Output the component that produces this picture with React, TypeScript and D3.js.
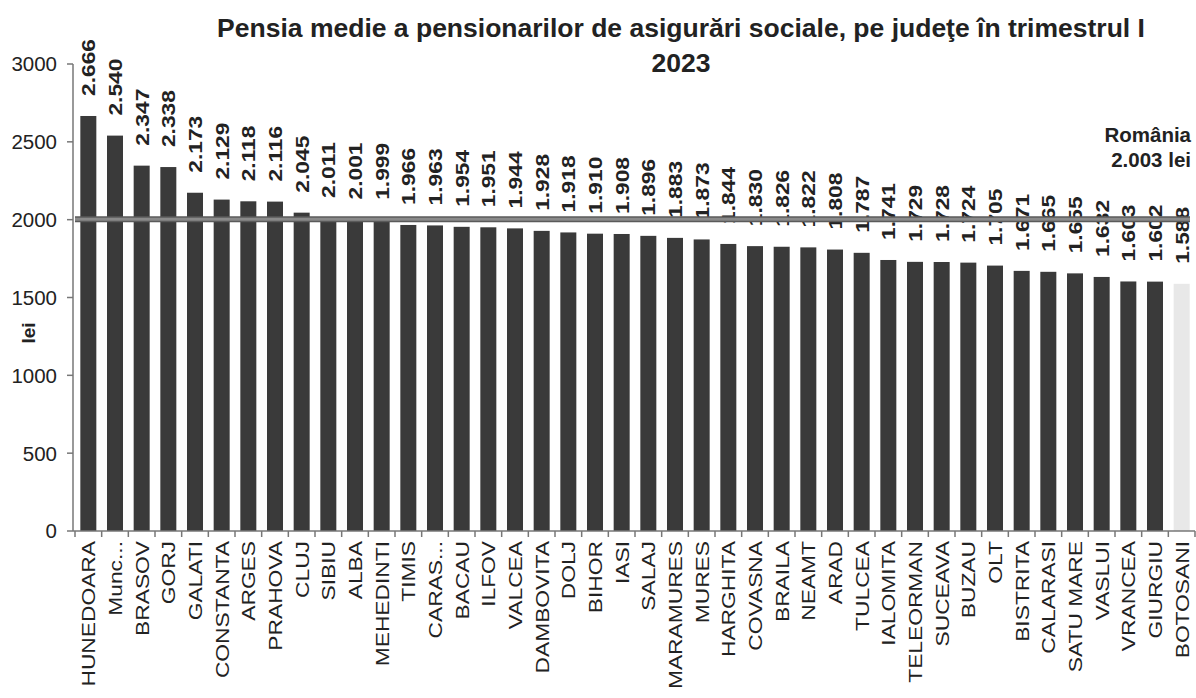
import React from "react";
import * as d3 from "d3";

const counties = [
  "HUNEDOARA", "Munc...", "BRASOV", "GORJ", "GALATI", "CONSTANTA", "ARGES", "PRAHOVA", "CLUJ", "SIBIU",
  "ALBA", "MEHEDINTI", "TIMIS", "CARAS...", "BACAU", "ILFOV", "VALCEA", "DAMBOVITA", "DOLJ", "BIHOR",
  "IASI", "SALAJ", "MARAMURES", "MURES", "HARGHITA", "COVASNA", "BRAILA", "NEAMT", "ARAD", "TULCEA",
  "IALOMITA", "TELEORMAN", "SUCEAVA", "BUZAU", "OLT", "BISTRITA", "CALARASI", "SATU MARE", "VASLUI", "VRANCEA",
  "GIURGIU", "BOTOSANI",
];
const pensions = [
  2666, 2540, 2347, 2338, 2173, 2129, 2118, 2116, 2045, 2011,
  2001, 1999, 1966, 1963, 1954, 1951, 1944, 1928, 1918, 1910,
  1908, 1896, 1883, 1873, 1844, 1830, 1826, 1822, 1808, 1787,
  1741, 1729, 1728, 1724, 1705, 1671, 1665, 1655, 1632, 1603,
  1602, 1588,
];
const nationalAverage = 2003;
const yTicks = [0, 500, 1000, 1500, 2000, 2500, 3000];
const titleLines = [
  "Pensia medie a pensionarilor de asigurări sociale, pe judeţe în trimestrul I",
  "2023",
];
const avgLabels = ["România", "2.003 lei"];
const yAxisTitle = "lei";

const W = 1196;
const H = 698;

export default function App() {
  const x = d3.scaleBand<string>().domain(counties).range([75, 1195]).paddingInner(0.4).paddingOuter(0.2);
  const y = d3.scaleLinear().domain([0, 3000]).range([531, 64]);
  const fmt = d3.formatLocale({ decimal: ",", thousands: ".", grouping: [3], currency: ["", ""] }).format(",d");
  const bw = x.bandwidth();
  const step = x.step();
  const font = "Arial, 'Liberation Sans', sans-serif";
  const boundaries = counties.map((c) => (x(c) as number) - (step - bw) / 2);
  boundaries.push((x(counties[counties.length - 1]) as number) + bw + (step - bw) / 2);

  return (
    <svg width={W} height={H} style={{ position: "absolute", left: 0, top: 0, background: "#fff" }} fontFamily={font}>
      {/* title */}
      {titleLines.map((t, i) => (
        <text key={t} x={681} y={37 + i * 35} textAnchor="middle" fontSize={26.5} fontWeight="bold" fill="#222">
          {t}
        </text>
      ))}

      {/* y axis */}
      <line x1={73} x2={73} y1={y(3000)} y2={y(0)} stroke="#777" strokeWidth={1.5} />
      {yTicks.map((t) => (
        <g key={t}>
          <line x1={67} x2={73} y1={y(t)} y2={y(t)} stroke="#777" strokeWidth={1.5} />
          <text x={57} y={y(t)} dy="0.36em" textAnchor="end" fontSize={20.5} fill="#222">
            {t}
          </text>
        </g>
      ))}
      <text transform={`translate(28, 333) rotate(-90)`} dy="0.36em" textAnchor="middle" fontSize={19} fontWeight="bold" fill="#222">
        {yAxisTitle}
      </text>

      {/* bars */}
      {counties.map((c, i) => (
        <rect
          key={c}
          x={x(c)}
          y={y(pensions[i])}
          width={bw}
          height={y(0) - y(pensions[i])}
          fill={i === counties.length - 1 ? "#e8e8e8" : "#3a3a3a"}
        />
      ))}

      {/* value labels */}
      {counties.map((c, i) => (
        <text
          key={c}
          transform={`translate(${(x(c) as number) + bw / 2}, ${y(pensions[i]) - 20}) rotate(-90) scale(1.2,1)`}
          dy="0.36em"
          fontSize={19}
          fontWeight="bold"
          fill="#222"
        >
          {fmt(pensions[i])}
        </text>
      ))}

      {/* national average line */}
      <line x1={75} x2={1190} y1={y(nationalAverage)} y2={y(nationalAverage)} stroke="#5a5a5a" strokeWidth={6} />
      <line x1={75} x2={1190} y1={y(nationalAverage)} y2={y(nationalAverage)} stroke="#8a8a8a" strokeWidth={3} />
      {avgLabels.map((t, i) => (
        <text key={t} x={1191} y={142 + i * 25} textAnchor="end" fontSize={20.5} fontWeight="bold" fill="#222">
          {t}
        </text>
      ))}

      {/* x axis */}
      <line x1={73} x2={1195} y1={y(0)} y2={y(0)} stroke="#777" strokeWidth={1.5} />
      {boundaries.map((b, i) => (
        <line key={i} x1={b} x2={b} y1={y(0)} y2={y(0) + 6} stroke="#777" strokeWidth={1.5} />
      ))}
      {counties.map((c) => (
        <text
          key={c}
          transform={`translate(${(x(c) as number) + bw / 2}, ${y(0) + 10}) rotate(-90) scale(1.2,1)`}
          dy="0.36em"
          textAnchor="end"
          fontSize={19}
          fill="#222"
        >
          {c}
        </text>
      ))}
    </svg>
  );
}
